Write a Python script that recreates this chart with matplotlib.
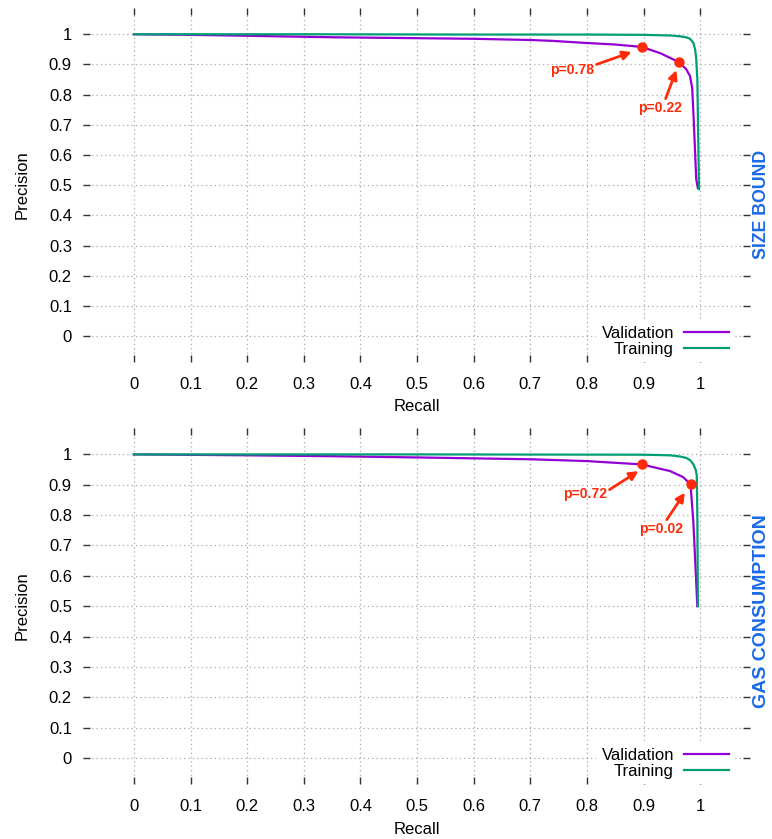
import matplotlib
matplotlib.use("Agg")
import matplotlib.pyplot as plt
import numpy as np

plt.rcParams['font.family'] = ['Liberation Sans', 'DejaVu Sans']

# ---------------- data ----------------
ticks = [0, 0.1, 0.2, 0.3, 0.4, 0.5, 0.6, 0.7, 0.8, 0.9, 1]
tick_labels = ['0', '0.1', '0.2', '0.3', '0.4', '0.5', '0.6', '0.7', '0.8', '0.9', '1']

# SIZE BOUND panel
sb_val_recall = [0, 0.1, 0.2, 0.35, 0.5, 0.6, 0.7, 0.74, 0.8, 0.85, 0.897, 0.93, 0.962, 0.975, 0.982, 0.986, 0.989, 0.993, 0.996]
sb_val_prec = [1.0, 0.998, 0.995, 0.99, 0.987, 0.985, 0.981, 0.978, 0.971, 0.966, 0.958, 0.937, 0.908, 0.885, 0.862, 0.82, 0.7, 0.52, 0.49]
sb_train_recall = [0, 0.3, 0.6, 0.8, 0.9, 0.947, 0.965, 0.975, 0.982, 0.988, 0.991, 0.993, 0.995, 0.997, 0.998]
sb_train_prec = [1.0, 1.0, 0.999, 0.999, 0.998, 0.996, 0.993, 0.99, 0.985, 0.972, 0.95, 0.92, 0.85, 0.6, 0.487]
sb_pts_recall = [0.897, 0.962]
sb_pts_prec = [0.958, 0.908]
sb_pts_labels = ['p=0.78', 'p=0.22']

# GAS CONSUMPTION panel
gc_val_recall = [0, 0.2, 0.35, 0.5, 0.7, 0.8, 0.897, 0.947, 0.97, 0.983, 0.988, 0.995]
gc_val_prec = [1.0, 0.997, 0.994, 0.99, 0.984, 0.978, 0.967, 0.945, 0.925, 0.901, 0.776, 0.5]
gc_train_recall = [0, 0.5, 0.9, 0.947, 0.965, 0.976, 0.983, 0.988, 0.992, 0.994, 0.995, 0.996]
gc_train_prec = [1.0, 1.0, 0.999, 0.997, 0.993, 0.988, 0.98, 0.967, 0.95, 0.93, 0.8, 0.5]
gc_pts_recall = [0.897, 0.983]
gc_pts_prec = [0.967, 0.901]
gc_pts_labels = ['p=0.72', 'p=0.02']

# ---------------- style ----------------
VAL_C = '#9400d3'
TRAIN_C = '#009e73'
RED = '#ff2a0a'
BLUE = '#1a6ae8'

W, H = 772, 839
fig = plt.figure(figsize=(W / 100, H / 100), dpi=100)


def px_axes(x0, y0, x1, y1):
    return fig.add_axes([x0 / W, 1 - y1 / H, (x1 - x0) / W, (y1 - y0) / H])


def setup(ax):
    ax.set_xlim(-0.09, 1.088)
    ax.set_ylim(-0.086, 1.087)
    for s in ax.spines.values():
        s.set_visible(False)
    ax.set_xticks(ticks)
    ax.set_xticklabels(tick_labels)
    ax.set_yticks(ticks)
    ax.set_yticklabels(tick_labels)
    ax.tick_params(axis='both', direction='in', length=5, width=1.0, color='#333333',
                   labelsize=12, top=True, right=True)
    ax.tick_params(axis='y', pad=8)
    ax.tick_params(axis='x', pad=11)
    ax.grid(True, color='#a8a8a8', linestyle=(0, (1, 2.5)), linewidth=0.9)
    ax.set_axisbelow(True)


def panel(ax, vr, vp, tr, tp, pr, pp, pl, text_pos, arrow_tails, arrow_heads):
    setup(ax)
    ax.plot(vr, vp, color=VAL_C, lw=1.6, label='Validation', solid_joinstyle='round')
    ax.plot(tr, tp, color=TRAIN_C, lw=1.6, label='Training', solid_joinstyle='round')
    ax.plot(pr, pp, 'o', color=RED, ms=6.5, zorder=4)
    for lab, tpos, tail, head in zip(pl, text_pos, arrow_tails, arrow_heads):
        ax.annotate('', xy=head, xytext=tail,
                    arrowprops=dict(arrowstyle='-|>', color=RED, lw=2, mutation_scale=13,
                                    shrinkA=0, shrinkB=0))
        ax.text(tpos[0], tpos[1], lab, color=RED, fontsize=10, fontweight='bold',
                ha='center', va='center')
    leg = ax.legend(loc='lower right', bbox_to_anchor=(0.976, 0.0), borderaxespad=0,
                    borderpad=0.3, markerfirst=False, handlelength=2.7, handletextpad=0.6,
                    labelspacing=0.05, fontsize=12, frameon=True, fancybox=False)
    leg.get_frame().set_edgecolor('none')
    leg.get_frame().set_facecolor('white')
    leg.get_frame().set_alpha(1)


ax1 = px_axes(83, 8, 750, 362)
panel(ax1, sb_val_recall, sb_val_prec, sb_train_recall, sb_train_prec,
      sb_pts_recall, sb_pts_prec, sb_pts_labels,
      text_pos=[(0.773, 0.881), (0.929, 0.757)],
      arrow_tails=[(0.817, 0.900), (0.939, 0.787)],
      arrow_heads=[(0.879, 0.941), (0.958, 0.881)])

ax2 = px_axes(83, 428, 750, 784)
panel(ax2, gc_val_recall, gc_val_prec, gc_train_recall, gc_train_prec,
      gc_pts_recall, gc_pts_prec, gc_pts_labels,
      text_pos=[(0.797, 0.871), (0.931, 0.755)],
      arrow_tails=[(0.840, 0.884), (0.941, 0.785)],
      arrow_heads=[(0.891, 0.945), (0.973, 0.874)])

# axis labels
fig.text(22 / W, 1 - 185 / H, 'Precision', rotation=90, ha='center', va='center', fontsize=12)
fig.text(417 / W, 1 - 407 / H, 'Recall', ha='center', va='center', fontsize=12)
fig.text(22 / W, 1 - 606 / H, 'Precision', rotation=90, ha='center', va='center', fontsize=12)
fig.text(417 / W, 1 - 829 / H, 'Recall', ha='center', va='center', fontsize=12)

fig.text(762 / W, 1 - 204 / H, 'SIZE BOUND', rotation=90, ha='center', va='center',
         fontsize=12.8, fontweight='bold', color=BLUE)
fig.text(762 / W, 1 - 611 / H, 'GAS CONSUMPTION', rotation=90, ha='center', va='center',
         fontsize=14, fontweight='bold', color=BLUE)

fig.savefig('out.png', dpi=100)
